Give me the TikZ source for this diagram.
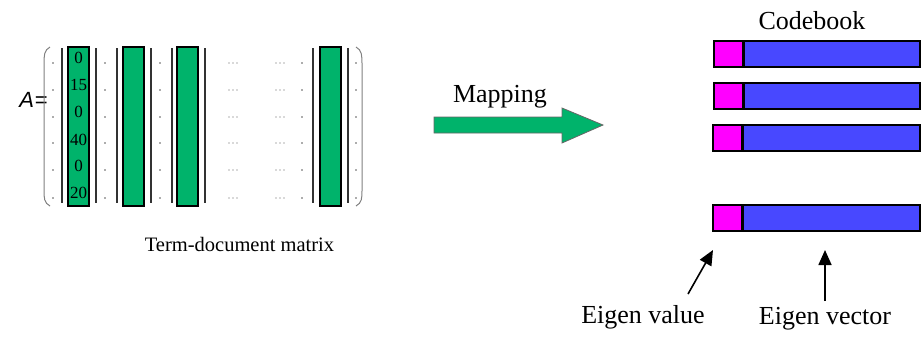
\documentclass[tikz,border=0pt]{standalone}
\usepackage{fontspec}
\setmainfont{Liberation Serif}
\setsansfont{Liberation Sans}
\usetikzlibrary{arrows.meta}
\definecolor{cgreen}{RGB}{0,179,107}
\definecolor{cblue}{RGB}{72,72,255}
\definecolor{cmag}{RGB}{255,0,255}
\tikzset{
  gbox/.style={draw=black, line width=2pt, fill=cgreen, minimum width=21pt, minimum height=159pt, inner sep=0pt},
  vline/.style={draw=black!80, line width=1.1pt},
  paren/.style={draw=gray, line width=1pt},
  dotmark/.style={fill=black!65, draw=none},
  num/.style={font=\fontsize{17}{17}\selectfont, inner sep=0pt},
  lab/.style={font=\fontsize{26}{26}\selectfont, inner sep=0pt},
  vbar/.style={draw=black, line width=2pt, fill=cblue, minimum height=26pt, inner sep=0pt},
  ebox/.style={draw=black, line width=2pt, fill=cmag, minimum height=26pt, minimum width=29pt, inner sep=0pt},
  ptr/.style={draw=black, line width=1.6pt, -{Triangle[length=15pt,width=13pt]}}
}
\begin{document}
\begin{tikzpicture}[x=1pt,y=-1pt]
\useasboundingbox (0,0) rectangle (921,338);
% A =
\node[font=\fontsize{22}{22}\selectfont\sffamily, inner sep=0pt, anchor=east] (aeq) at (48,100) {{\itshape A}\kern1pt=};
% parentheses
\draw[paren] (50,47) .. controls (44,50) and (44,56) .. (44,64) -- (44,190) .. controls (44,198) and (44,203) .. (50,206);
\draw[paren] (356,47) .. controls (362,50) and (362,56) .. (362,64) -- (362,190) .. controls (362,198) and (362,203) .. (356,206);
% vertical lines
\foreach \x in {62,96,117,151,172,205,313,348}{
  \draw[vline] (\x,48) -- (\x,203);
}
% green columns
\node[gbox] (c1) at (78.5,126) {};
\node[gbox] (c2) at (133,126) {};
\node[gbox] (c3) at (187.5,126) {};
\node[gbox] (c4) at (330,126) {};
% numbers in column 1
\foreach \v/\y in {0/58,15/85,0/112,40/140,0/166,20/193}{
  \node[num] at (78.5,\y) {\v};
}
% dot columns
\foreach \y in {63,90,117,143,170,198}{
  \foreach \x in {53,105,160,302,356}{
    \fill[dotmark] (\x,\y) circle (0.9);
  }
  \foreach \x in {233,280}{
    \foreach \d in {-4,0,4}{
      \fill[dotmark] (\x+\d,\y) circle (0.7);
    }
  }
}
\node[font=\fontsize{20.5}{20.5}\selectfont, inner sep=0pt] (tdm) at (239.5,244) {Term-document matrix};
% mapping arrow
\draw[draw=black!60, line width=0.8pt, fill=cgreen] (434,117) -- (562,117) -- (562,108) -- (603,125) -- (562,143) -- (562,133) -- (434,133) -- cycle;
\coordinate (maparrow) at (518,125);
\node[lab] (map) at (500,97) {Mapping};
% codebook
\node[lab] (cb) at (812,21) {Codebook};
\foreach \i/\y/\xl in {1/53.5/714,2/95.5/714,3/138/713,4/217.5/713}{
  \node[vbar, minimum width={920-\xl-29}] (v\i) at ({(\xl+29+919)/2},\y) {};
  \node[ebox] (e\i) at ({\xl+14},\y) {};
  \draw[black, line width=3pt] ({\xl+29},{\y-12}) -- ({\xl+29},{\y+12});
}
% eigen labels
\node[lab] (ev) at (643,317) {Eigen value};
\node[lab] (evec) at (825,319) {Eigen vector};
\coordinate (evs) at (688,294);
\coordinate (evt) at (713,250);
\coordinate (vvs) at (825,301);
\coordinate (vvt) at (825,250);
\draw[ptr] (evs) -- (evt);
\draw[ptr] (vvs) -- (vvt);
\end{tikzpicture}
\end{document}
